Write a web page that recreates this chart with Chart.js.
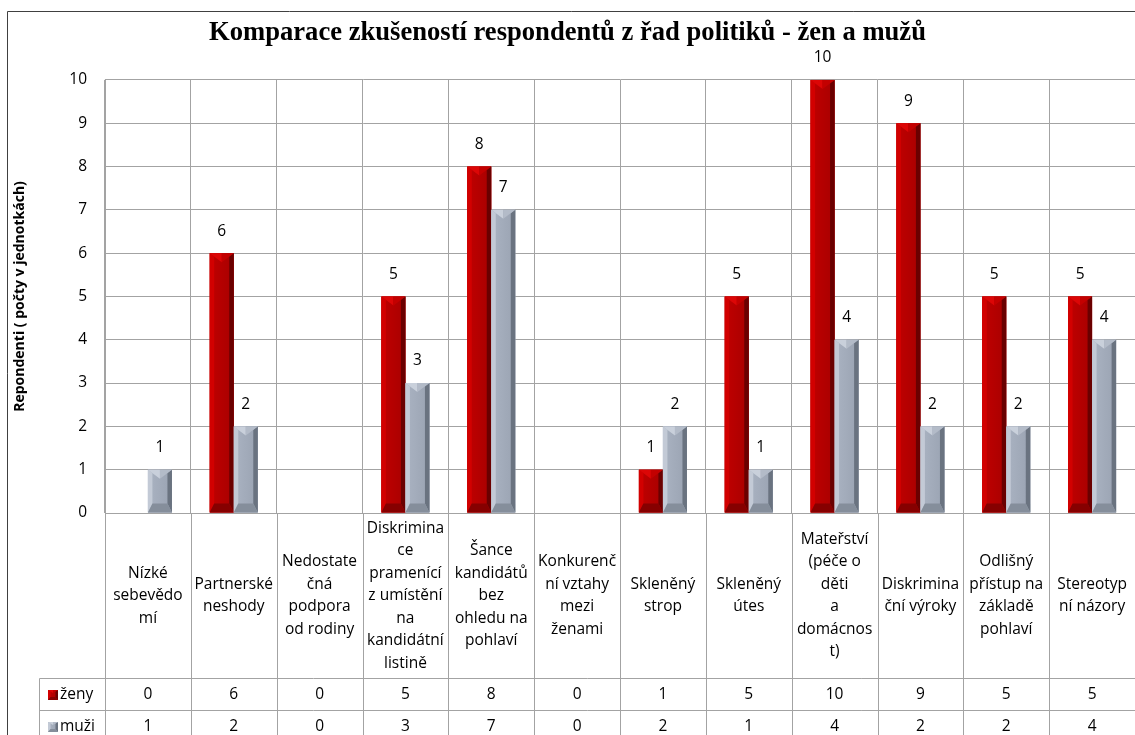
<!DOCTYPE html>
<html><head><meta charset="utf-8">
<script src="https://cdn.jsdelivr.net/npm/chart.js@4.4.0/dist/chart.umd.min.js"></script>
<style>html,body{margin:0;padding:0;background:#fff;overflow:hidden}canvas{display:block}</style>
</head><body>
<canvas id="c" width="1135" height="735"></canvas>
<script>
const chartTitle = "Komparace zkušeností respondentů z řad politiků - žen a mužů";
const yAxisTitle = "Repondenti ( počty v jednotkách)";
const categories = [
  ["Nízké","sebevědo","mí"],
  ["Partnerské","neshody"],
  ["Nedostate","čná","podpora","od rodiny"],
  ["Diskrimina","ce","pramenící","z umístění","na","kandidátní","listině"],
  ["Šance","kandidátů","bez","ohledu na","pohlaví"],
  ["Konkurenč","ní vztahy","mezi","ženami"],
  ["Skleněný","strop"],
  ["Skleněný","útes"],
  ["Mateřství","(péče o","děti","a","domácnos","t)"],
  ["Diskrimina","ční výroky"],
  ["Odlišný","přístup na","základě","pohlaví"],
  ["Stereotyp","ní názory"]
];
const seriesNames = ["ženy", "muži"];
const zeny = [0, 6, 0, 5, 8, 0, 1, 5, 10, 9, 5, 5];
const muzi = [1, 2, 0, 3, 7, 0, 2, 1, 4, 2, 2, 4];
const yMin = 0, yMax = 10, yStep = 1;

const FONT = "'Open Sans', 'DejaVu Sans', sans-serif";
const GRID = '#a3a3a3';

const palettes = [
  {face:'#c00000', faceR:'#a80000', left:'#d20000', right:'#6a0000', top:'#dc0606', topR:'#c30000', bottom:'#860000'},
  {face:'#aab3c2', faceR:'#9aa3b2', left:'#c3cad6', right:'#6a7380', top:'#c9d0db', topR:'#b3bbc8', bottom:'#858e9b'}
];

function drawBevel(ctx, l, t, r, b, p){
  const w = r - l, h = b - t;
  if (h <= 0) return;
  const s = Math.min(4.5, w/4);
  const d = Math.min(9, h*0.3);
  const cx = (l + r) / 2;
  const g = ctx.createLinearGradient(l, 0, r, 0);
  g.addColorStop(0, p.face); g.addColorStop(1, p.faceR);
  ctx.fillStyle = g;
  ctx.fillRect(l, t, w, h);
  const sd = d * s / (w / 2);
  // left strip
  ctx.fillStyle = p.left;
  ctx.beginPath(); ctx.moveTo(l,t); ctx.lineTo(l+s,t+sd); ctx.lineTo(l+s,b-d); ctx.lineTo(l,b); ctx.closePath(); ctx.fill();
  // right strip
  ctx.fillStyle = p.right;
  ctx.beginPath(); ctx.moveTo(r,t); ctx.lineTo(r-s,t+sd); ctx.lineTo(r-s,b-d); ctx.lineTo(r,b); ctx.closePath(); ctx.fill();
  // top pyramid: two halves
  ctx.fillStyle = p.top;
  ctx.beginPath(); ctx.moveTo(l,t); ctx.lineTo(cx,t); ctx.lineTo(cx,t+d); ctx.closePath(); ctx.fill();
  ctx.fillStyle = p.topR;
  ctx.beginPath(); ctx.moveTo(cx,t); ctx.lineTo(r,t); ctx.lineTo(cx,t+d); ctx.closePath(); ctx.fill();
  // bottom
  ctx.fillStyle = p.bottom;
  ctx.beginPath(); ctx.moveTo(l,b); ctx.lineTo(r,b); ctx.lineTo(r-s,b-d); ctx.lineTo(l+s,b-d); ctx.closePath(); ctx.fill();
}

const bevelPlugin = {
  id: 'bevel',
  afterDatasetsDraw(chart){
    const ctx = chart.ctx;
    ctx.save();
    chart.data.datasets.forEach((ds, di) => {
      const meta = chart.getDatasetMeta(di);
      meta.data.forEach((el, i) => {
        const l = el.x - el.width/2, r = el.x + el.width/2;
        drawBevel(ctx, l, el.y, r, el.base, palettes[di]);
        const v = ds.data[i];
        if (v > 0) {
          ctx.fillStyle = '#000';
          ctx.font = "15.5px " + FONT;
          ctx.textAlign = 'center'; ctx.textBaseline = 'middle';
          ctx.fillText(String(v), el.x, el.y - 22);
        }
      });
    });
    ctx.restore();
  }
};

const tablePlugin = {
  id: 'table',
  afterDraw(chart){
    const ctx = chart.ctx, ca = chart.chartArea, x = chart.scales.x;
    const n = categories.length;
    const half = (ca.right - ca.left) / n / 2;
    const labBottom = 678.5, row1 = 710.5, H = chart.height;
    const hdrLeft = 39.5;
    ctx.save();
    ctx.strokeStyle = GRID; ctx.lineWidth = 1;
    for (let i = 0; i <= n; i++) {
      const bx = Math.round(i < n ? x.getPixelForValue(i) - half : x.getPixelForValue(n-1) + half) + 0.5;
      ctx.beginPath(); ctx.moveTo(bx, ca.bottom); ctx.lineTo(bx, H); ctx.stroke();
    }
    ctx.beginPath(); ctx.moveTo(hdrLeft, labBottom); ctx.lineTo(hdrLeft, H); ctx.stroke();
    [labBottom, row1].forEach(yy => { ctx.beginPath(); ctx.moveTo(hdrLeft, yy); ctx.lineTo(chart.width, yy); ctx.stroke(); });
    ctx.fillStyle = '#000';
    ctx.font = "15.5px " + FONT;
    ctx.textAlign = 'center'; ctx.textBaseline = 'middle';
    const lh = 22.5;
    const cy = (ca.bottom + labBottom) / 2;
    categories.forEach((lines, i) => {
      const cx = x.getPixelForValue(i);
      const y0 = cy - (lines.length - 1) * lh / 2;
      lines.forEach((t, k) => ctx.fillText(t, cx, y0 + k * lh));
    });
    const rows = [zeny, muzi];
    const rowY = [695, 727];
    rows.forEach((arr, ri) => {
      const yy = rowY[ri];
      drawBevel(ctx, 48, yy - 5, 58, yy + 5, palettes[ri]);
      ctx.fillStyle = '#000';
      ctx.textAlign = 'left';
      ctx.fillText(seriesNames[ri], 60, yy);
      ctx.textAlign = 'center';
      arr.forEach((v, i) => ctx.fillText(String(v), x.getPixelForValue(i), yy));
    });
    ctx.strokeStyle = '#404040';
    ctx.beginPath(); ctx.moveTo(7.5, H); ctx.lineTo(7.5, 11.5); ctx.lineTo(chart.width, 11.5); ctx.stroke();
    ctx.restore();
  }
};

new Chart(document.getElementById('c'), {
  type: 'bar',
  data: {
    labels: categories,
    datasets: [
      { label: seriesNames[0], data: zeny, backgroundColor: palettes[0].face, borderWidth: 0 },
      { label: seriesNames[1], data: muzi, backgroundColor: palettes[1].face, borderWidth: 0 }
    ]
  },
  options: {
    responsive: false,
    animation: false,
    events: [],
    layout: { padding: { left: 0, right: 0, top: 0, bottom: 0 } },
    datasets: { bar: { categoryPercentage: 0.56, barPercentage: 1.0 } },
    plugins: {
      legend: { display: false },
      tooltip: { enabled: false },
      title: {
        display: true, text: chartTitle, color: '#000',
        font: { family: "'Liberation Serif', 'Times New Roman', serif", size: 26.6, weight: 'bold', lineHeight: 1.2 },
        padding: { top: 17, bottom: 31 }
      }
    },
    scales: {
      x: {
        offset: true,
        grid: { color: GRID, lineWidth: 1, offset: true, drawTicks: false },
        border: { color: GRID },
        ticks: { display: false },
        afterFit(s){ s.height = 222; }
      },
      y: {
        min: yMin, max: yMax,
        grid: { color: GRID, lineWidth: 1, drawTicks: false },
        border: { color: GRID },
        ticks: { stepSize: yStep, color: '#000', padding: 18, font: { family: FONT, size: 15.5 } },
        title: { display: true, text: yAxisTitle, color: '#000', padding: { top: 12, bottom: 0 },
                 font: { family: FONT, size: 14, weight: 'bold' } },
        afterFit(s){ s.width = 105; }
      }
    }
  },
  plugins: [bevelPlugin, tablePlugin]
});
</script>
</body></html>
